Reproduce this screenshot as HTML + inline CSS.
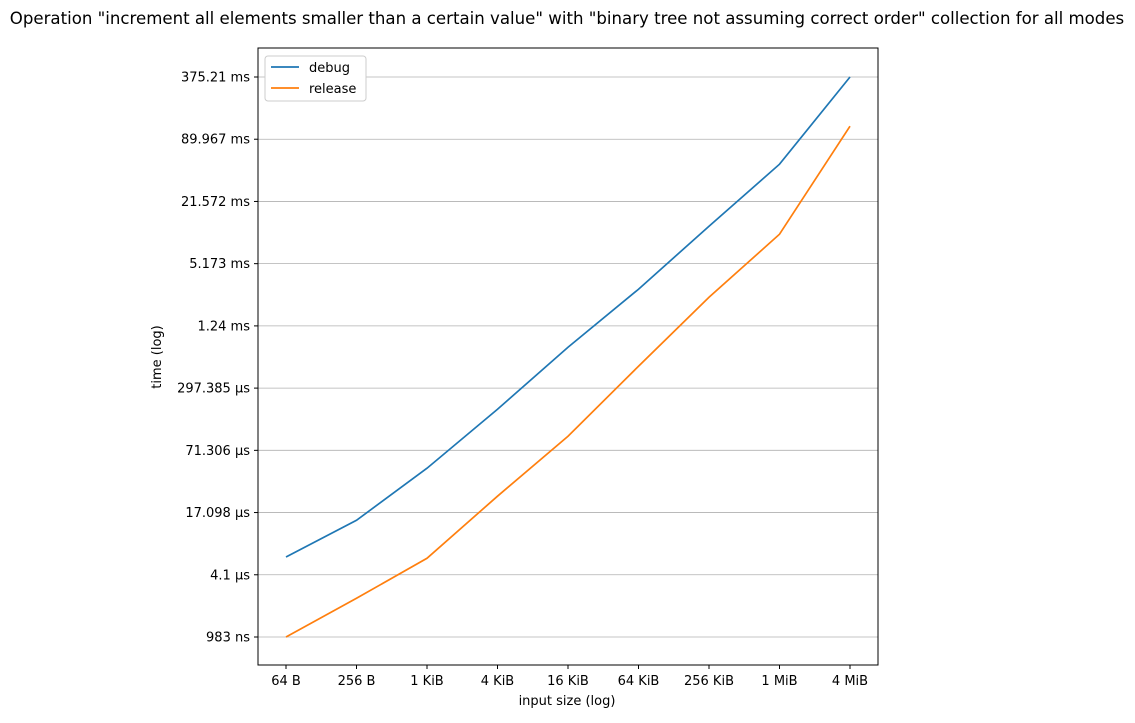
<!DOCTYPE html>
<html><head><meta charset="utf-8"><style>
body{margin:0;background:#fff;font-family:"Liberation Sans","DejaVu Sans",sans-serif}
</style></head><body>
<svg id="c" width="1135" height="718" xmlns="http://www.w3.org/2000/svg" font-family="'DejaVu Sans','Liberation Sans',sans-serif">
<text x="567" y="24" text-anchor="middle" font-size="16.6">Operation "increment all elements smaller than a certain value" with "binary tree not assuming correct order" collection for all modes</text>
<g id="grid"></g><g id="axes"></g><g id="series"></g>
<rect x="258" y="48" width="620" height="617" fill="none" stroke="#000" stroke-width="1"/>
<text x="567" y="705" text-anchor="middle" font-size="13">input size (log)</text>
<text transform="translate(161,357) rotate(-90)" text-anchor="middle" font-size="13">time (log)</text>
<g>
<rect x="265" y="56" width="101" height="45" fill="#fff" stroke="#ccc" rx="3"/>
<line x1="271" y1="67" x2="299" y2="67" stroke="#1f77b4" stroke-width="1.7"/>
<text x="309" y="72" font-size="13">debug</text>
<line x1="271" y1="88" x2="299" y2="88" stroke="#ff7f0e" stroke-width="1.7"/>
<text x="309" y="93" font-size="13">release</text>
</g>
</svg>
<script>
const categories=["64 B","256 B","1 KiB","4 KiB","16 KiB","64 KiB","256 KiB","1 MiB","4 MiB"];
const debugNs=[6165,14320,47300,183000,760000,2877000,12218000,50700000,375210000];
const releaseNs=[983,2390,5990,24900,98600,491000,2393000,10160000,121300000];
const yTickVals=[983,4100,17098,71306,297385,1240000,5173000,21572000,89967000,375210000];
const yTickLabels=["983 ns","4.1 µs","17.098 µs","71.306 µs","297.385 µs","1.24 ms","5.173 ms","21.572 ms","89.967 ms","375.21 ms"];
const NS='http://www.w3.org/2000/svg';
const x=i=>286+i*(850-286)/(categories.length-1);
const lmin=Math.log10(983),lmax=Math.log10(375210000);
const y=v=>637-(Math.log10(v)-lmin)/(lmax-lmin)*(637-77);
const g=document.getElementById('grid'),a=document.getElementById('axes'),s=document.getElementById('series');
function mk(t,at,p){const e=document.createElementNS(NS,t);for(const k in at)e.setAttribute(k,at[k]);p.appendChild(e);return e;}
yTickVals.forEach((v,i)=>{
 const l=mk('line',{x1:258,x2:878,y1:y(v),y2:y(v),stroke:'#b0b0b0','stroke-width':0.8},g);
 
 
 mk('line',{x1:254,x2:258,y1:y(v),y2:y(v),stroke:'#000'},a);
 const t=mk('text',{x:250,y:y(v)+4.5,'text-anchor':'end','font-size':13},a);t.textContent=yTickLabels[i];
 
 
});
categories.forEach((c,i)=>{
 mk('line',{x1:x(i),x2:x(i),y1:665,y2:669,stroke:'#000'},a);
 const t=mk('text',{x:x(i),y:685,'text-anchor':'middle','font-size':13},a);t.textContent=c;
 
 
});
[[debugNs,'#1f77b4','debug-line'],[releaseNs,'#ff7f0e','release-line']].forEach(([d,col,n])=>{
 const p=mk('polyline',{points:d.map((v,i)=>x(i)+','+y(v)).join(' '),fill:'none',stroke:col,'stroke-width':1.7},s);
 
 
});
</script>
</body></html>
